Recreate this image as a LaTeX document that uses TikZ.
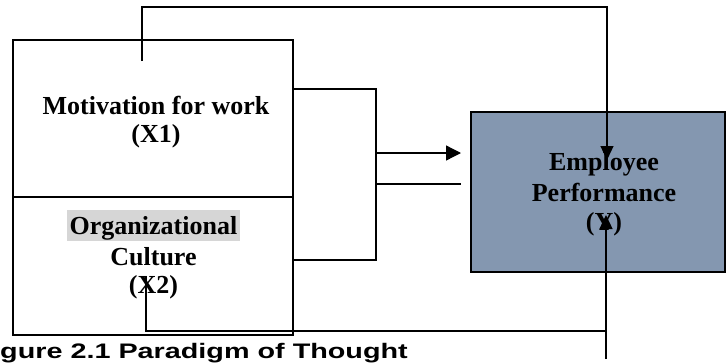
\documentclass[tikz,border=0pt]{standalone}
\usepackage{fontspec}
\setmainfont{Liberation Serif}
\newfontfamily\capfont[FakeStretch=1.37]{Liberation Sans}
\usetikzlibrary{arrows.meta}
\definecolor{perfblue}{HTML}{8497B0}
\definecolor{hlgray}{HTML}{D6D6D6}
\begin{document}
\begin{tikzpicture}[x=1pt,y=-1pt,
  boxstyle/.style={draw,line width=2.4pt,inner sep=0pt},
  conn/.style={line width=1.3pt},
  tip/.style={-{Triangle[length=14pt,width=13pt]}},
  lbl/.style={anchor=base,inner sep=0pt,font=\fontsize{26}{30}\selectfont\bfseries}]
\useasboundingbox (0,0) rectangle (726,362);
% boxes
\node[boxstyle,minimum width=280pt,minimum height=157pt] (mot) at (153,118.5) {};
\node[boxstyle,minimum width=280pt,minimum height=138pt] (org) at (153,266) {};
\node[draw,line width=2pt,fill=perfblue,inner sep=0pt,minimum width=254pt,minimum height=160pt] (perf) at (597.5,192) {};
% texts
\node[lbl] (m1) at (156,114) {Motivation for work};
\node[lbl] (m2) at (156,142) {(X1)};
\node[lbl,fill=hlgray,inner xsep=2.5pt,inner ysep=0pt,text height=24pt,text depth=7pt] (o1) at (153.5,234) {Organizational};
\node[lbl] (o2) at (153.5,265) {Culture};
\node[lbl] (o3) at (153.5,293) {(X2)};
\node[lbl] (p1) at (604,170) {Employee};
\node[lbl] (p2) at (604,201) {Performance};
\node[lbl] (p3) at (604,230) {(Y)};
% caption
\node[anchor=base west,inner sep=0pt,font=\capfont\fontsize{21}{24}\selectfont\bfseries] (cap) at (0,358) {gure 2.1 Paradigm of Thought};
% connector coordinates
\coordinate (t0) at (142,61);
\coordinate (t1) at (142,7);
\coordinate (t2) at (607,7);
\coordinate (t3) at (607,160);
\coordinate (b0) at (293,89);
\coordinate (b1) at (376,89);
\coordinate (b2) at (376,260);
\coordinate (b3) at (293,260);
\coordinate (a0) at (376,153);
\coordinate (a1) at (461,153);
\coordinate (c0) at (376,184);
\coordinate (c1) at (461,184);
\coordinate (u0) at (146,276);
\coordinate (u1) at (146,331);
\coordinate (u2) at (606,331);
\coordinate (u3) at (606,359);
\coordinate (u4) at (606,215);
% connectors
\draw[conn,tip] (t0) -- (t1) -- (t2) -- (t3);
\draw[conn] (b0) -- (b1) -- (b2) -- (b3);
\draw[conn,-{Triangle[length=15pt,width=15pt]}] (a0) -- (a1);
\draw[conn] (c0) -- (c1);
\draw[conn] (u0) -- (u1) -- (u2);
\draw[conn,tip] (u3) -- (u4);
\end{tikzpicture}
\end{document}
